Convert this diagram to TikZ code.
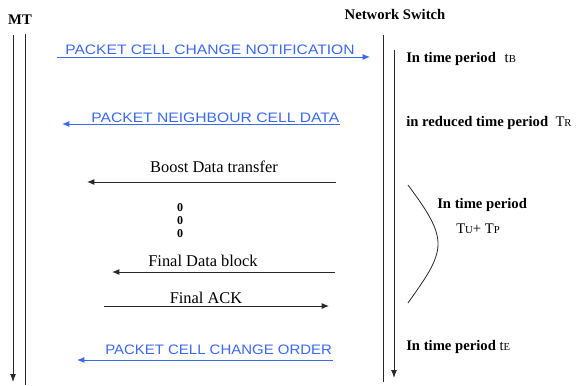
\documentclass[tikz,border=0pt]{standalone}
\usepackage{fontspec}
\usepackage{graphicx}
\setmainfont{Liberation Serif}
\setsansfont{Liberation Sans}
\usetikzlibrary{arrows.meta}

\definecolor{pktblue}{RGB}{58,104,240}
\definecolor{linegray}{RGB}{40,40,40}

% signalling message caption stretched to a given width
\newcommand{\pktcap}[2]{\resizebox{#1}{\height}{#2}}

\begin{document}
\begin{tikzpicture}[x=0.75pt,y=-0.75pt,
  life/.style={draw=linegray, line width=0.75pt},
  lifearrow/.style={life, -{Latex[length=6pt,width=4.5pt]}},
  msg/.style={draw=linegray, line width=0.75pt, -{Latex[length=5.5pt,width=4.5pt]}},
  bluemsg/.style={draw=pktblue, line width=0.75pt, -{Latex[length=5.5pt,width=4.5pt]}},
  hdr/.style={inner sep=0, anchor=base, font=\bfseries\fontsize{11}{13}\selectfont},
  period/.style={inner sep=0, anchor=base west, font=\bfseries\fontsize{11}{13}\selectfont},
  lbl/.style={inner sep=0, anchor=base, font=\fontsize{12.3}{14}\selectfont},
  pkt/.style={inner sep=0, anchor=base west, text=pktblue, font=\sffamily\fontsize{10.3}{12}\selectfont},
  dot/.style={inner sep=0, font=\bfseries\fontsize{9}{10}\selectfont},
  tsub/.style={font=\fontsize{11}{13}\selectfont}
]
\useasboundingbox (0,0) rectangle (580,385);

% headers
\node[hdr] (mt) at (20,25) {MT};
\node[hdr] (ns) at (395,20) {Network Switch};

% lifelines
\coordinate (mtA1) at (13,35);  \coordinate (mtA2) at (13,382);
\coordinate (mtB1) at (25,34);  \coordinate (mtB2) at (25,385);
\coordinate (nsA1) at (383,35); \coordinate (nsA2) at (383,382);
\coordinate (nsB1) at (394,50); \coordinate (nsB2) at (394,378);
\draw[lifearrow] (mtA1) -- (mtA2);
\draw[life] (mtB1) -- (mtB2);
\draw[life] (nsA1) -- (nsA2);
\draw[lifearrow] (nsB1) -- (nsB2);

% packet cell change notification
\node[pkt] (pccn) at (65,55) {\pktcap{217pt}{PACKET CELL CHANGE NOTIFICATION}};
\coordinate (pccnS) at (57,57); \coordinate (pccnE) at (370,57);
\draw[bluemsg] (pccnS) -- (pccnE);

% packet neighbour cell data
\node[pkt] (pncd) at (91,122) {\pktcap{186pt}{PACKET NEIGHBOUR CELL DATA}};
\coordinate (pncdS) at (340,124); \coordinate (pncdE) at (62,124);
\draw[bluemsg] (pncdS) -- (pncdE);

% boost data transfer
\node[lbl] (boost) at (214,172) {Boost Data transfer};
\coordinate (boostS) at (336,182); \coordinate (boostE) at (87,182);
\draw[msg] (boostS) -- (boostE);

% continuation marks
\node[dot] (d1) at (180,208) {0};
\node[dot] (d2) at (180,221) {0};
\node[dot] (d3) at (180,234) {0};

% final data block
\node[lbl] (fdb) at (203,266) {Final Data block};
\coordinate (fdbS) at (335,272); \coordinate (fdbE) at (112,272);
\draw[msg] (fdbS) -- (fdbE);

% final ack
\node[lbl] (fack) at (206,303) {Final ACK};
\coordinate (fackS) at (104,306); \coordinate (fackE) at (329,306);
\draw[msg] (fackS) -- (fackE);

% packet cell change order
\node[pkt] (pcco) at (105,354) {\pktcap{170pt}{PACKET CELL CHANGE ORDER}};
\coordinate (pccoS) at (333,360); \coordinate (pccoE) at (77,360);
\draw[bluemsg] (pccoS) -- (pccoE);

% time periods
\node[period] (tB) at (406,62) {In time period\hspace{0.6em}{\mdseries t\raisebox{-0.5pt}{\fontsize{8}{9}\selectfont B}}};
\node[period] (tR) at (406,126) {in reduced time period\hspace{0.5em}{\mdseries T\raisebox{-0.5pt}{\fontsize{8}{9}\selectfont R}}};
\node[period] (tUP) at (437,208) {In time period};
\node[inner sep=0, anchor=base west, tsub] (tUPv) at (456,233) {T\raisebox{-0.5pt}{\fontsize{8}{9}\selectfont U}+ T\raisebox{-0.5pt}{\fontsize{8}{9}\selectfont P}};
\node[period] (tE) at (406,350) {In time period {\mdseries t\raisebox{-0.5pt}{\fontsize{8}{9}\selectfont E}}};

% brace-like curve
\coordinate (cTop) at (408,185);
\coordinate (cMid) at (438,244);
\coordinate (cBot) at (408,303);
\draw[draw=linegray, line width=0.6pt] (cTop) .. controls (428,212) and (438,228) .. (cMid)
  .. controls (438,262) and (424,280) .. (cBot);
\end{tikzpicture}
\end{document}
